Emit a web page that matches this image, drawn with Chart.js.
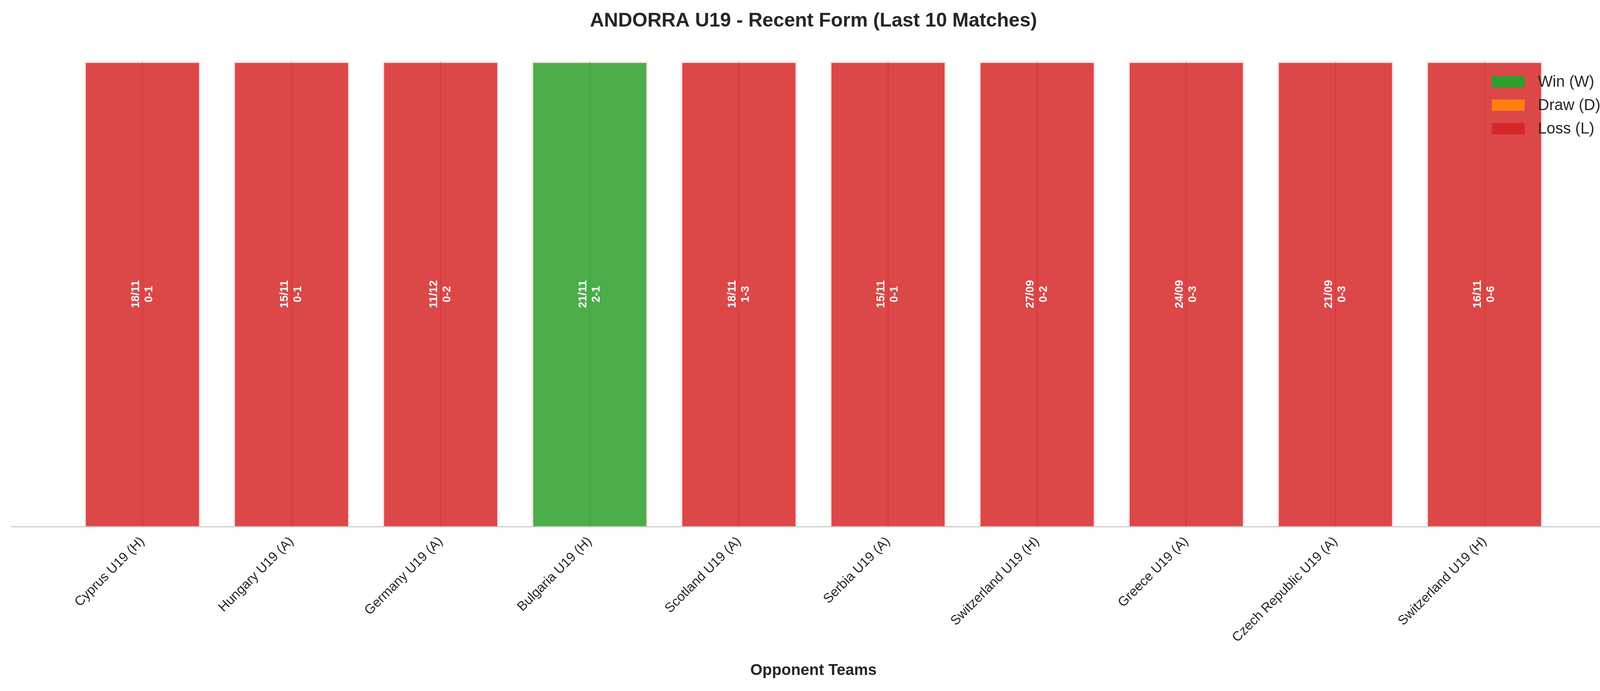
<!DOCTYPE html>
<html><head><meta charset="utf-8">
<script src="https://cdn.jsdelivr.net/npm/chart.js@4"></script>
<style>html,body{margin:0;padding:0;background:#fff;overflow:hidden}#w{width:4170px;height:1770px}</style>
</head><body><div id="w"><canvas id="c"></canvas></div>
<script>
const opponents = ['Cyprus U19 (H)','Hungary U19 (A)','Germany U19 (A)','Bulgaria U19 (H)','Scotland U19 (A)','Serbia U19 (A)','Switzerland U19 (H)','Greece U19 (A)','Czech Republic U19 (A)','Switzerland U19 (H)'];
const results = ['L','L','L','W','L','L','L','L','L','L'];
const dates = ['18/11','15/11','11/12','21/11','18/11','15/11','27/09','24/09','21/09','16/11'];
const scores = ['0-1','0-1','0-2','2-1','1-3','0-1','0-2','0-3','0-3','0-6'];
const barHeight = 1;
const types = [['W','Win (W)','#2ca02c'],['D','Draw (D)','#ff7f0e'],['L','Loss (L)','#d62728']];

function alpha(hex,a){const n=parseInt(hex.slice(1),16);return `rgba(${n>>16},${(n>>8)&255},${n&255},${a})`;}
const datasets = types.map(([k,label,col])=>({
  label, baseColor: col,
  data: results.map((r,i)=>r===k?{x:i,y:barHeight}:null).filter(v=>v),
  backgroundColor: alpha(col,0.85), borderColor:'rgba(255,225,225,0.9)', borderWidth:4,
  barThickness: 297, grouped:false
}));

const overlay = {
  id:'overlay',
  afterDatasetsDraw(chart){
    const ctx=chart.ctx, xs=chart.scales.x, ys=chart.scales.y, ca=chart.chartArea;
    ctx.save();
    ctx.strokeStyle='#cccccc'; ctx.lineWidth=3;
    ctx.beginPath(); ctx.moveTo(ca.left,ca.bottom); ctx.lineTo(ca.right,ca.bottom); ctx.stroke();
    // centre lines
    results.forEach((r,i)=>{
      const col=types.find(t=>t[0]===r)[2];
      const x=xs.getPixelForValue(i);
      ctx.strokeStyle=alpha(col,0.35); ctx.lineWidth=3;
      ctx.beginPath(); ctx.moveTo(x,ys.getPixelForValue(barHeight)); ctx.lineTo(x,ys.getPixelForValue(0)); ctx.stroke();
    });
    ctx.fillStyle='#fff'; ctx.font='bold 29px "Liberation Sans", Arial, sans-serif';
    ctx.textAlign='center'; ctx.textBaseline='middle';
    results.forEach((r,i)=>{
      const x=xs.getPixelForValue(i), y=ys.getPixelForValue(barHeight/2);
      ctx.save(); ctx.translate(x,y); ctx.rotate(-Math.PI/2);
      ctx.fillText(dates[i],0,-17); ctx.fillText(scores[i],0,17);
      ctx.restore();
    });
    ctx.font='40px "Liberation Sans", Arial, sans-serif'; ctx.textAlign='left';
    types.forEach(([k,label,col],j)=>{
      const y=209+j*60;
      ctx.fillStyle=col; ctx.fillRect(3819,y-14,84,29);
      ctx.fillStyle='#262626'; ctx.fillText(label,3937,y+2);
    });
    ctx.restore();
  }
};

new Chart(document.getElementById('c'),{
  type:'bar',
  data:{datasets},
  options:{
    responsive:true, maintainAspectRatio:false, animation:false,
    devicePixelRatio:1,
    layout:{padding:{left:29,right:34,top:0,bottom:0}},
    plugins:{
      legend:{display:false}, tooltip:{enabled:false},
      title:{display:true,text:'ANDORRA U19 - Recent Form (Last 10 Matches)',color:'#262626',
        font:{family:'"Liberation Sans", Arial, sans-serif',size:50,weight:'bold'},padding:{top:24,bottom:14}}
    },
    scales:{
      x:{type:'linear',min:-0.879,max:9.879,offset:false,
        afterBuildTicks(s){s.ticks=opponents.map((_,i)=>({value:i}));},
        ticks:{callback:(v)=>opponents[v]??'',maxRotation:45,minRotation:45,autoSkip:false,color:'#262626',
          font:{family:'"Liberation Sans", Arial, sans-serif',size:34},padding:10},
        grid:{display:false,offset:false},
        border:{display:false},
        title:{display:true,text:'Opponent Teams',color:'#262626',
          font:{family:'"Liberation Sans", Arial, sans-serif',size:40,weight:'bold'},padding:{top:30,bottom:28}}
      },
      y:{min:0,max:1.05,display:false}
    }
  },
  plugins:[overlay]
});
</script></body></html>
